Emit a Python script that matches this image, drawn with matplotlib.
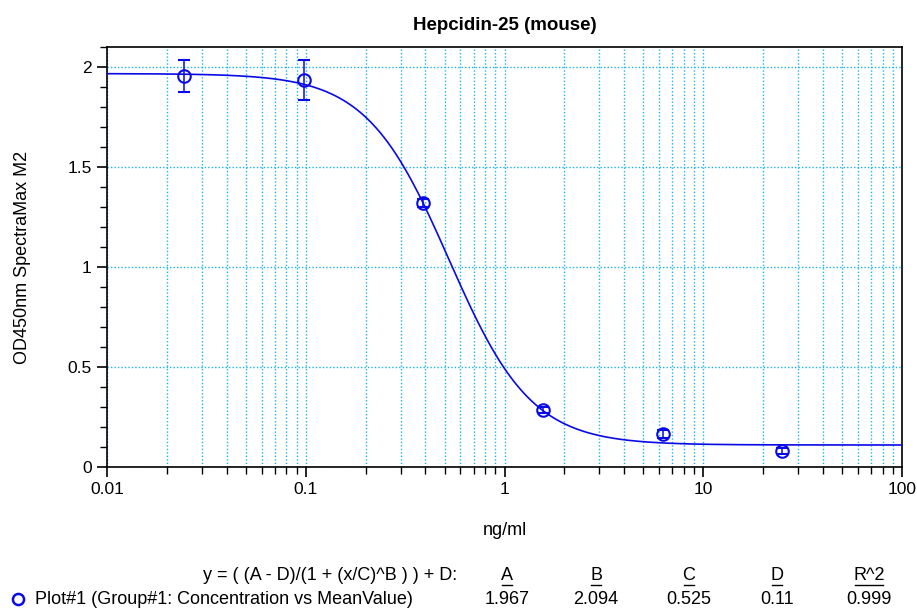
import numpy as np
import matplotlib
matplotlib.use("Agg")
import matplotlib.pyplot as plt
from matplotlib.lines import Line2D
from matplotlib.ticker import LogLocator, MultipleLocator, FixedFormatter, FixedLocator

# ────────────────────────── data ──────────────────────────
conc = [0.0244, 0.0977, 0.391, 1.5625, 6.25, 25.0]
mean_od = [1.955, 1.935, 1.322, 0.285, 0.165, 0.080]
err_od = [0.080, 0.100, 0.020, 0.015, 0.020, 0.015]

# 4PL fit parameters as printed under the chart
fit_A, fit_B, fit_C, fit_D, fit_R2 = 1.967, 2.094, 0.525, 0.11, 0.999

x_ticks = [0.01, 0.1, 1, 10, 100]
x_tick_labels = ["0.01", "0.1", "1", "10", "100"]
y_ticks = [0, 0.5, 1, 1.5, 2]
y_tick_labels = ["0", "0.5", "1", "1.5", "2"]

BLUE = "#0a0ae6"
GRID = "#19b4f0"

plt.rcParams["font.family"] = ["Liberation Sans", "DejaVu Sans"]

fig = plt.figure(figsize=(9.17, 6.08), dpi=100)
ax = fig.add_axes([107 / 917, 1 - 467 / 608, 795 / 917, 420 / 608])

# fitted curve
xs = np.logspace(-2, 2, 400)
ys = (fit_A - fit_D) / (1 + (xs / fit_C) ** fit_B) + fit_D
ax.plot(xs, ys, color=BLUE, lw=1.2, zorder=3)

ax.errorbar(conc, mean_od, yerr=err_od, fmt="o", ms=9, mfc="none", mec=BLUE,
            mew=1.5, ecolor=BLUE, elinewidth=1.1, capsize=4, capthick=1.1, zorder=4)

ax.set_xscale("log")
ax.set_xlim(0.01, 100)
ax.set_ylim(0, 2.1)

ax.xaxis.set_major_locator(FixedLocator(x_ticks))
ax.xaxis.set_major_formatter(FixedFormatter(x_tick_labels))
ax.xaxis.set_minor_locator(LogLocator(base=10, subs=np.arange(2, 10), numticks=20))
ax.yaxis.set_major_locator(FixedLocator(y_ticks))
ax.yaxis.set_major_formatter(FixedFormatter(y_tick_labels))
ax.yaxis.set_minor_locator(MultipleLocator(0.1))

ax.grid(True, which="both", axis="x", color=GRID, ls=(0, (1, 1.5)), lw=1.0)
ax.grid(True, which="major", axis="y", color=GRID, ls=(0, (1, 1.5)), lw=1.0)

ax.tick_params(which="major", direction="out", length=7, width=1.2, labelsize=12.5, pad=4)
ax.tick_params(which="minor", direction="out", length=5, width=1.0)
ax.tick_params(axis="x", which="minor", labelbottom=False)
for sp in ax.spines.values():
    sp.set_linewidth(1.2)

ax.set_title("Hepcidin-25 (mouse)", fontsize=13.5, fontweight="bold", pad=12)
ax.set_xlabel("ng/ml", fontsize=13, labelpad=18)
ax.set_ylabel("OD450nm SpectraMax M2", fontsize=13, labelpad=26)

# ────────────────────────── fit table ──────────────────────────
fs = 13
row1_y = 1 - 575 / 608
row2_y = 1 - 599 / 608
fig.text(457 / 917, row1_y, "y = ( (A - D)/(1 + (x/C)^B ) ) + D:",
         ha="right", va="center", fontsize=fs)
col_x = [507, 596, 689, 777, 869]
col_heads = ["A", "B", "C", "D", "R^2"]
col_vals = ["%.3f" % fit_A, "%.3f" % fit_B, "%.3f" % fit_C, "%.2f" % fit_D, "%.3f" % fit_R2]
for cx, head, val in zip(col_x, col_heads, col_vals):
    fig.text(cx / 917, row1_y, head, ha="center", va="center", fontsize=fs)
    w = 10 if len(head) == 1 else 28
    fig.add_artist(Line2D([(cx - w / 2) / 917, (cx + w / 2) / 917],
                          [1 - 584.5 / 608, 1 - 584.5 / 608], color="black", lw=1.0))
    fig.text(cx / 917, row2_y, val, ha="center", va="center", fontsize=fs)

fig.add_artist(Line2D([18 / 917], [row2_y], marker="o", ms=8, mfc="none",
                      mec=BLUE, mew=1.8, ls="none"))
fig.text(35 / 917, row2_y, "Plot#1 (Group#1: Concentration vs MeanValue)",
         ha="left", va="center", fontsize=fs)

fig.savefig("out.png", dpi=100, facecolor="white")
